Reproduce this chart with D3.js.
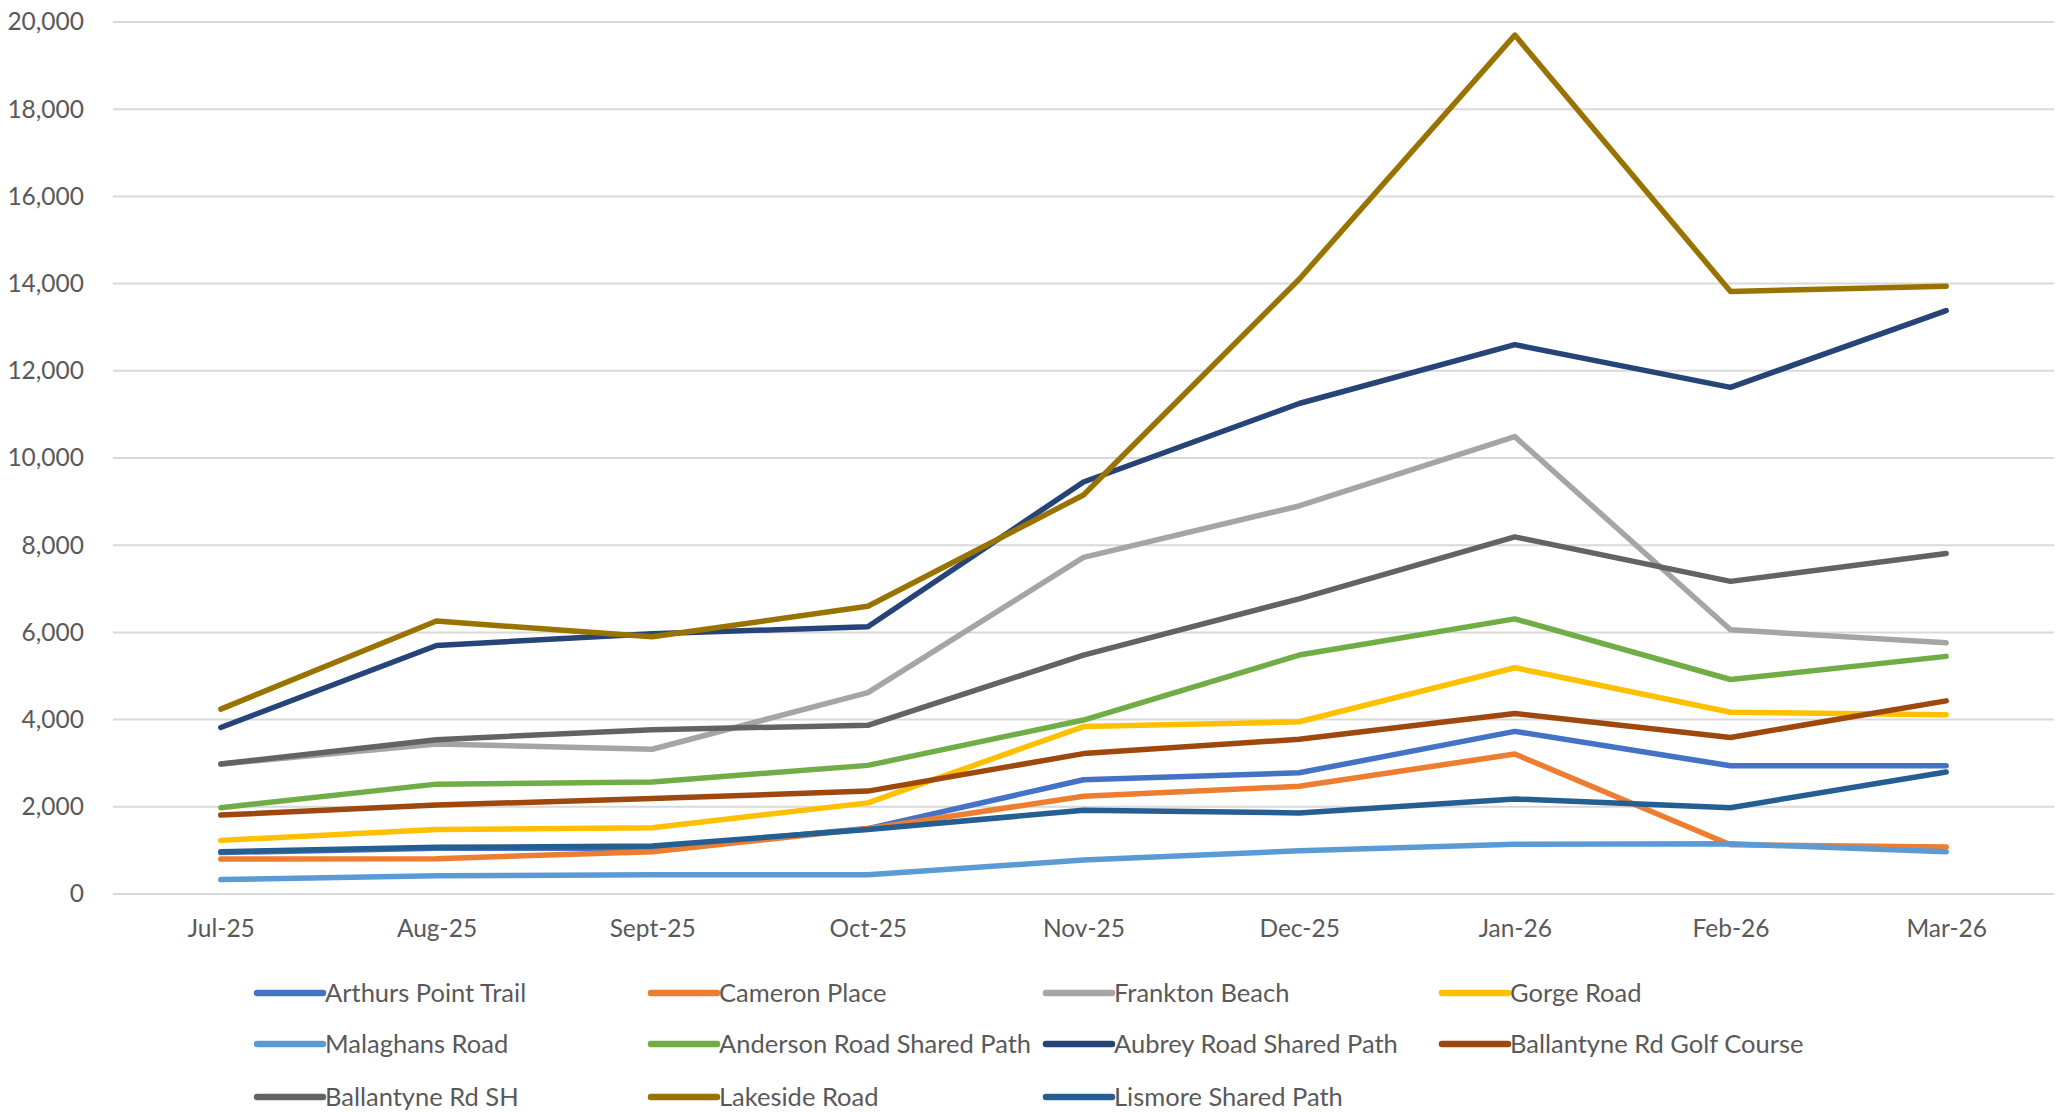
<!DOCTYPE html>
<html><head><meta charset="utf-8">
<script src="https://cdn.jsdelivr.net/npm/d3@7"></script>
<style>body{margin:0;background:#fff;}svg{display:block;}</style>
</head><body>
<svg id="chart" width="2070" height="1112"></svg>
<script>
const months = ["Jul-25","Aug-25","Sept-25","Oct-25","Nov-25","Dec-25","Jan-26","Feb-26","Mar-26"];
const yTicks = [0,2000,4000,6000,8000,10000,12000,14000,16000,18000,20000];
const seriesNames = ["Arthurs Point Trail","Cameron Place","Frankton Beach","Gorge Road","Malaghans Road","Anderson Road Shared Path","Aubrey Road Shared Path","Ballantyne Rd Golf Course","Ballantyne Rd SH","Lakeside Road","Lismore Shared Path"];
const seriesColors = ["#4472C4","#ED7D31","#A5A5A5","#FFC000","#5B9BD5","#70AD47","#264478","#9E480E","#636363","#997300","#255E91"];
const arthursPointTrail = [950,1050,1050,1500,2620,2780,3730,2940,2940];
const cameronPlace = [800,810,970,1500,2240,2470,3210,1130,1080];
const franktonBeach = [2980,3440,3320,4620,7720,8900,10490,6060,5760];
const gorgeRoad = [1230,1480,1520,2090,3840,3950,5190,4170,4110];
const malaghansRoad = [330,420,440,440,780,990,1140,1150,970];
const andersonRoad = [1980,2520,2570,2950,3990,5480,6310,4920,5450];
const aubreyRoad = [3820,5700,5970,6130,9450,11250,12600,11620,13380];
const ballantyneGolf = [1810,2040,2190,2360,3220,3550,4140,3590,4430];
const ballantyneSH = [2980,3540,3770,3870,5480,6770,8190,7170,7810];
const lakesideRoad = [4240,6260,5900,6600,9150,14100,19700,13820,13940];
const lismorePath = [970,1070,1100,1480,1920,1860,2180,1980,2800];
const seriesValues = [arthursPointTrail,cameronPlace,franktonBeach,gorgeRoad,malaghansRoad,andersonRoad,aubreyRoad,ballantyneGolf,ballantyneSH,lakesideRoad,lismorePath];
const drawOrder = [0,1,2,3,4,5,6,7,8,9,10];

const svg = d3.select("#chart");
const pLeft = 113, pRight = 2054, pTop = 22, pBottom = 894;
const x = d3.scalePoint().domain(months).range([pLeft, pRight]).padding(0.5);
const y = d3.scaleLinear().domain([0,20000]).range([pBottom, pTop]);
const font = "Lato, 'Open Sans', sans-serif";
const textColor = "#595959";

// gridlines
svg.append("g").selectAll("line").data(yTicks).join("line")
  .attr("x1", pLeft).attr("x2", pRight)
  .attr("y1", d => y(d)).attr("y2", d => y(d))
  .attr("stroke", "#D9D9D9").attr("stroke-width", 2);

// y axis
const yAxis = svg.append("g").attr("transform", `translate(${pLeft},0)`)
  .call(d3.axisLeft(y).tickValues(yTicks).tickFormat(d3.format(",")).tickSize(0).tickPadding(29));
yAxis.select(".domain").remove();
yAxis.selectAll("text").attr("font-family", font).attr("font-size", 24.5).attr("fill", textColor);

// x axis
const xAxis = svg.append("g").attr("transform", `translate(0,${pBottom})`)
  .call(d3.axisBottom(x).tickSize(0).tickPadding(26));
xAxis.select(".domain").remove();
xAxis.selectAll("text").attr("font-family", font).attr("font-size", 24.5).attr("fill", textColor);

// lines
const line = d3.line().x((d,i) => x(months[i])).y(d => y(d));
svg.append("g").selectAll("path").data(drawOrder).join("path")
  .attr("d", i => line(seriesValues[i]))
  .attr("fill", "none")
  .attr("stroke", i => seriesColors[i])
  .attr("stroke-width", 5.5)
  .attr("stroke-linejoin", "round")
  .attr("stroke-linecap", "round");

// legend
const legCols = [257, 651, 1046, 1442];
const legRows = [993, 1044, 1097];
const leg = svg.append("g").selectAll("g").data(seriesNames).join("g")
  .attr("transform", (d,i) => `translate(${legCols[i%4]},${legRows[Math.floor(i/4)]})`);
leg.append("line").attr("x1", 0).attr("x2", 66).attr("y1", 0).attr("y2", 0)
  .attr("stroke", (d,i) => seriesColors[i]).attr("stroke-width", 6.5).attr("stroke-linecap","round");
leg.append("text").attr("x", 68).attr("y", 0).attr("dy", "0.35em")
  .attr("font-family", font).attr("font-size", 25.5).attr("fill", textColor)
  .text(d => d);
</script>
</body></html>
